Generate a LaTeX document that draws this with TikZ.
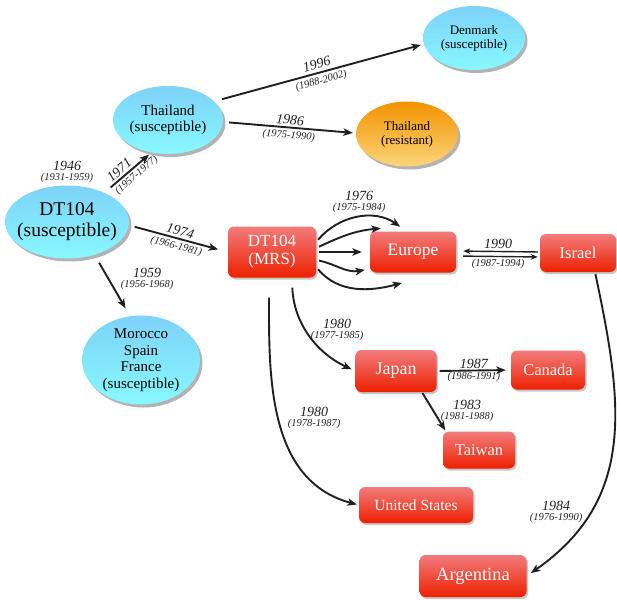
\documentclass[tikz,border=0pt]{standalone}
\usepackage{fontspec}
\setmainfont{Liberation Serif}
\usetikzlibrary{shapes.geometric,shadows,arrows.meta}
\definecolor{bluetop}{HTML}{7DD2F8}
\definecolor{bluebot}{HTML}{88F8FF}
\definecolor{orgtop}{HTML}{F39400}
\definecolor{orgbot}{HTML}{FBD47A}
\definecolor{redtop}{HTML}{F27C7C}
\definecolor{redbot}{HTML}{EE2000}
\definecolor{inkcol}{HTML}{231F20}
\tikzset{
	blueel/.style={ellipse,inner sep=-6pt,top color=bluetop,bottom color=bluebot,draw=none,align=center,
		drop shadow={opacity=.6,shadow xshift=2.5pt,shadow yshift=-3pt}},
	orangeel/.style={blueel,top color=orgtop,bottom color=orgbot},
	redbox/.style={rectangle,rounded corners=6pt,inner sep=0pt,top color=redtop,bottom color=redbot,draw=none,
		text=white,align=center,drop shadow={opacity=.45,shadow xshift=1.5pt,shadow yshift=-2pt}},
	arr/.style={-{Stealth[length=9.5pt,width=7.5pt,inset=2.5pt]},line width=1.9pt,draw=inkcol,shorten <=6pt,shorten >=3pt},
	arrs/.style={arr,-{Stealth[length=7pt,width=5.5pt,inset=2pt]},line width=1.4pt},
	yrs/.style={font=\fontsize{14}{15}\selectfont\itshape,text=inkcol,inner sep=1pt},
	rngs/.style={font=\fontsize{10.5}{11}\selectfont\itshape,text=inkcol,inner sep=1pt},
	yrlab/.style={align=center,font=\itshape,text=inkcol,inner sep=0pt},
}
\newcommand{\yrpair}[2]{{\fontsize{14}{14}\selectfont #1}\\[-2pt]{\fontsize{10.5}{11}\selectfont (#2)}}
\begin{document}
\begin{tikzpicture}[x=1pt,y=1pt]
	\useasboundingbox (0,0) rectangle (617,-599);
	\node[blueel,minimum width=119pt,minimum height=73pt,font=\fontsize{19.5}{21}\selectfont] (dts) at (67,-222) {DT104\\(susceptible)};
	\node[blueel,minimum width=110pt,minimum height=68pt,font=\fontsize{15}{16}\selectfont] (ths) at (168,-120) {Thailand\\(susceptible)};
	\node[blueel,minimum width=102pt,minimum height=64pt,font=\fontsize{13}{14}\selectfont] (den) at (474,-38) {Denmark\\(susceptible)};
	\node[orangeel,minimum width=102pt,minimum height=65pt,font=\fontsize{13}{14}\selectfont] (thr) at (407,-134) {Thailand\\(resistant)};
	\node[blueel,minimum width=118pt,minimum height=89pt,font=\fontsize{15}{16.5}\selectfont] (mor) at (141,-360) {Morocco\\Spain\\France\\(susceptible)};
	
	\node[redbox,minimum width=88pt,minimum height=51pt,font=\fontsize{17}{18}\selectfont] (mrs) at (272,-252) {DT104\\(MRS)};
	\node[redbox,minimum width=86pt,minimum height=41pt,font=\fontsize{17.5}{18}\selectfont] (eur) at (413,-252) {Europe};
	\node[redbox,minimum width=76pt,minimum height=38pt,font=\fontsize{16.5}{17}\selectfont] (isr) at (578,-253) {Israel};
	\node[redbox,minimum width=81pt,minimum height=42pt,font=\fontsize{18}{19}\selectfont] (jap) at (396,-371) {Japan};
	\node[redbox,minimum width=74pt,minimum height=39pt,font=\fontsize{16.5}{17}\selectfont] (can) at (548,-370) {Canada};
	\node[redbox,minimum width=72pt,minimum height=37pt,font=\fontsize{16.5}{17}\selectfont] (tai) at (479,-450) {Taiwan};
	\node[redbox,minimum width=114pt,minimum height=36pt,font=\fontsize{15.5}{16}\selectfont] (usa) at (416,-505) {United States};
	\node[redbox,minimum width=107pt,minimum height=42pt,font=\fontsize{18.5}{19}\selectfont] (arg) at (473,-576) {Argentina};
	
	\draw[arr,shorten <=8pt] (dts.38) -- (ths.243) node[pos=.42,sloped,above=1pt,yrs] {1971} node[pos=.58,sloped,below=1pt,rngs] {(1957-1977)};
	\draw[arr,shorten <=8pt] (ths.22) -- (den.187) node[midway,sloped,above=2pt,yrs] {1996} node[midway,sloped,below=2pt,rngs] {(1988-2002)};
	\draw[arr] (ths.-2) -- (thr.179) node[midway,sloped,above=1pt,yrs] {1986} node[midway,sloped,below=1.5pt,rngs] {(1975-1990)};
	\draw[arr,shorten >=10pt] (dts.-3) -- (mrs.west) node[midway,sloped,above=1pt,yrs] {1974} node[midway,sloped,below=1.5pt,rngs] {(1966-1981)};
	\draw[arr,shorten <=9pt,shorten >=9pt] (dts.-50) -- (mor.104);
	
	\draw[arr,shorten <=3pt,shorten >=1pt] ([yshift=10pt]mrs.east) to[out=50,in=145] ([xshift=-12pt,yshift=4pt]eur.north);
	\draw[arr,shorten <=3pt,shorten >=1pt] ([yshift=4pt]mrs.east) to[out=25,in=185] ([xshift=12pt,yshift=3pt]eur.north west);
	\draw[arr,shorten <=3pt,shorten >=8pt] (mrs.east) -- (eur.west);
	\draw[arr,shorten <=3pt,shorten >=1pt] ([yshift=-8pt]mrs.east) to[out=-12,in=190] ([xshift=-4pt,yshift=3pt]eur.south west);
	\draw[arr,shorten <=3pt,shorten >=1pt] ([yshift=-15pt]mrs.east) to[out=-50,in=-165] ([xshift=-10pt,yshift=-10pt]eur.south);
	
	\draw[arrs,shorten <=2pt,shorten >=7pt] ([yshift=1pt]isr.west) -- ([yshift=1pt]eur.east) node[midway,above=1pt,yrs] {1990};
	\draw[arrs,shorten <=7pt,shorten >=2pt] ([yshift=-4pt]eur.east) -- ([yshift=-4pt]isr.west) node[midway,below=1pt,rngs] {(1987-1994)};
	
	\draw[arr,shorten <=10pt,shorten >=4pt] ([xshift=20pt]mrs.south) to[out=-88,in=155] (jap.west);
	\draw[arr,shorten <=20pt,shorten >=2pt] ([xshift=-3pt]mrs.south) to[out=-90,in=165] (usa.west);
	\draw[arr,shorten <=3pt,shorten >=5pt] (jap.east) -- (can.west) node[midway,above,yrs] {1987} node[midway,below,rngs] {(1986-1991)};
	\draw[arr,shorten <=1pt,shorten >=1pt] ([xshift=26pt]jap.south) -- ([xshift=3pt]tai.north west);
	\draw[arr,shorten <=2pt,shorten >=5pt] ([xshift=17pt]isr.south) to[out=-78,in=35,looseness=1.1] (arg.east);
	
	\node[yrlab] (l1946) at (67,-172) {\yrpair{1946}{1931-1959}};
	\node[yrlab] (l1959) at (147,-279) {\yrpair{1959}{1956-1968}};
	\node[yrlab] (l1976) at (359,-202) {\yrpair{1976}{1975-1984}};
	\node[yrlab] (l1980a) at (337,-330) {\yrpair{1980}{1977-1985}};
	\node[yrlab] (l1980b) at (314,-418) {\yrpair{1980}{1978-1987}};
	\node[yrlab] (l1983) at (467,-411) {\yrpair{1983}{1981-1988}};
	\node[yrlab] (l1984) at (556,-512) {\yrpair{1984}{1976-1990}};
\end{tikzpicture}
\end{document}
